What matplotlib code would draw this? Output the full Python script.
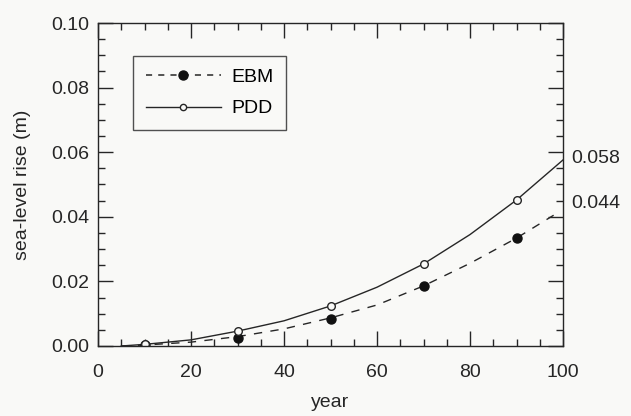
import numpy as np
import matplotlib.pyplot as plt
from matplotlib.ticker import MultipleLocator

plt.rcParams['font.family'] = ['Liberation Sans', 'DejaVu Sans']

# curves (sea-level rise in m)
pdd_years = [5, 10, 20, 30, 40, 50, 60, 70, 80, 90, 100]
pdd_curve = [0.0, 0.0005, 0.0019, 0.0046, 0.0078, 0.0124, 0.0182, 0.0254, 0.0345, 0.0452, 0.0576]
ebm_years = [5, 10, 20, 30, 40, 50, 60, 70, 80, 90, 98]
ebm_curve = [0.0, 0.0003, 0.0012, 0.0029, 0.0053, 0.0087, 0.0127, 0.0186, 0.0256, 0.0334, 0.0405]

# model points
pt_years = [10, 30, 50, 70, 90]
pdd_pts = [0.0005, 0.0046, 0.0124, 0.0254, 0.0452]
ebm_pts = [0.0003, 0.0025, 0.0084, 0.0186, 0.0334]

end_labels = ['0.058', '0.044']
end_values = [0.058, 0.044]

bg = '#f9f9f7'
ink = '#262626'
fs = 14

fig = plt.figure(figsize=(6.31, 4.16), dpi=100, facecolor=bg)
ax = fig.add_axes([98/631, 70/416, 465/631, 323/416], facecolor=bg)

ax.plot(ebm_years, ebm_curve, color=ink, lw=1.0, ls=(0, (6, 6)))
ax.plot(pdd_years, pdd_curve, color=ink, lw=1.0)
ax.plot(pt_years, ebm_pts, 'o', color='#111111', ms=6.5)
ax.plot(pt_years, pdd_pts, 'o', mfc=bg, mec=ink, mew=1.0, ms=5.5)

# legend proxies
ebm_h, = ax.plot([], [], color=ink, lw=1.1, ls=(0, (4, 4)), marker='o', ms=6.5, mfc='#111111', mec='#111111')
pdd_h, = ax.plot([], [], color=ink, lw=1.0, marker='o', ms=4.5, mfc=bg, mec=ink)
leg = ax.legend([ebm_h, pdd_h], ['EBM', 'PDD'], loc='upper left', bbox_to_anchor=(0.075, 0.898),
                fontsize=fs, frameon=True, fancybox=False, edgecolor=ink,
                handlelength=3.9, borderpad=0.65, labelspacing=0.7, handletextpad=0.5,
                borderaxespad=0)
leg.get_frame().set_facecolor(bg)
leg.get_frame().set_linewidth(1.0)

ax.set_xlim(0, 100)
ax.set_ylim(0, 0.10)
ax.xaxis.set_major_locator(MultipleLocator(20))
ax.xaxis.set_minor_locator(MultipleLocator(5))
ax.yaxis.set_major_locator(MultipleLocator(0.02))
ax.yaxis.set_minor_locator(MultipleLocator(0.005))
ax.set_yticklabels(['%.2f' % v for v in ax.get_yticks()])
ax.set_xticklabels(['%d' % v for v in ax.get_xticks()])
ax.tick_params(which='both', direction='in', top=True, right=True, colors=ink,
               labelsize=fs, width=1.0)
ax.tick_params(which='major', length=10.5)
ax.tick_params(which='minor', length=5)
ax.tick_params(axis='x', pad=13)
ax.tick_params(axis='y', pad=6)
for s in ax.spines.values():
    s.set_color(ink)
    s.set_linewidth(1.0)

for lab, v in zip(end_labels, end_values):
    ax.annotate(lab, xy=(100, v), xytext=(6, 0), textcoords='offset points',
                va='center', ha='left', fontsize=fs, color=ink, annotation_clip=False)

ax.set_xlabel('year', fontsize=fs, color=ink, labelpad=9)
ax.set_ylabel('sea-level rise (m)', fontsize=fs, color=ink, labelpad=15)

fig.savefig('out.png', dpi=100, facecolor=bg)
